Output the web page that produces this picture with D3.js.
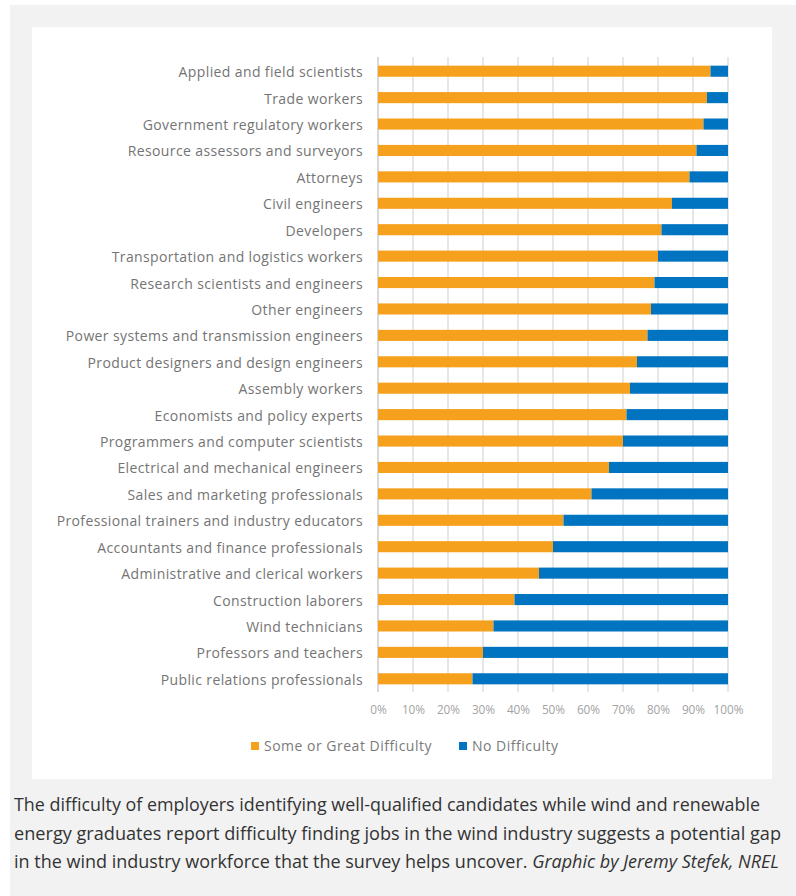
<!DOCTYPE html>
<html>
<head>
<meta charset="utf-8">
<script src="https://cdn.jsdelivr.net/npm/d3@7/dist/d3.min.js"></script>
<style>
  html, body { margin: 0; padding: 0; background: #ffffff; }
  svg { display: block; }
</style>
</head>
<body>
<svg id="chart" width="796" height="896"></svg>
<script>
// Occupations, top to bottom
const categories = [
  "Applied and field scientists",
  "Trade workers",
  "Government regulatory workers",
  "Resource assessors and surveyors",
  "Attorneys",
  "Civil engineers",
  "Developers",
  "Transportation and logistics workers",
  "Research scientists and engineers",
  "Other engineers",
  "Power systems and transmission engineers",
  "Product designers and design engineers",
  "Assembly workers",
  "Economists and policy experts",
  "Programmers and computer scientists",
  "Electrical and mechanical engineers",
  "Sales and marketing professionals",
  "Professional trainers and industry educators",
  "Accountants and finance professionals",
  "Administrative and clerical workers",
  "Construction laborers",
  "Wind technicians",
  "Professors and teachers",
  "Public relations professionals"
];

// Share of employers (%) reporting some or great difficulty
const someOrGreatDifficulty = [95, 94, 93, 91, 89, 84, 81, 80, 79, 78, 77, 74, 72, 71, 70, 66, 61, 53, 50, 46, 39, 33, 30, 27];
// Share of employers (%) reporting no difficulty
const noDifficulty = [5, 6, 7, 9, 11, 16, 19, 20, 21, 22, 23, 26, 28, 29, 30, 34, 39, 47, 50, 54, 61, 67, 70, 73];

const seriesNames = ["Some or Great Difficulty", "No Difficulty"];
const seriesColors = ["#F6A11D", "#0074C0"];
const tickValues = [0, 10, 20, 30, 40, 50, 60, 70, 80, 90, 100];

const captionLines = [
  [{ t: "The difficulty of employers identifying well-qualified candidates while wind and renewable", i: false }],
  [{ t: "energy graduates report difficulty finding jobs in the wind industry suggests a potential gap", i: false }],
  [{ t: "in the wind industry workforce that the survey helps uncover. ", i: false },
   { t: "Graphic by Jeremy Stefek, NREL", i: true }]
];

const svg = d3.select("#chart");

// Page backdrop and white chart card
svg.append("rect").attr("x", 10).attr("y", 5).attr("width", 786).attr("height", 891).attr("fill", "#f2f2f2");
svg.append("rect").attr("x", 32).attr("y", 27).attr("width", 740).attr("height", 752).attr("fill", "#ffffff");

const x = d3.scaleLinear().domain([0, 100]).range([378, 728]);
const y = d3.scaleBand().domain(categories).range([58, 692]).paddingInner(0.58).paddingOuter(0.29);

// Vertical gridlines
svg.append("g")
  .selectAll("line")
  .data(tickValues)
  .join("line")
  .attr("x1", d => x(d)).attr("x2", d => x(d))
  .attr("y1", 57).attr("y2", 692)
  .attr("stroke", d => d === 0 ? "#c4c4c4" : "#dadada")
  .attr("stroke-width", 1.3);

// Stacked bars
const rows = categories.map((c, i) => ({ c, a: someOrGreatDifficulty[i], b: noDifficulty[i] }));
const stack = d3.stack().keys(["a", "b"])(rows);

svg.append("g")
  .selectAll("g")
  .data(stack)
  .join("g")
  .attr("fill", (d, i) => seriesColors[i])
  .selectAll("rect")
  .data(d => d)
  .join("rect")
  .attr("x", d => x(d[0]))
  .attr("width", d => x(d[1]) - x(d[0]))
  .attr("y", d => y(d.data.c))
  .attr("height", y.bandwidth());

// Category axis labels
const yAxis = d3.axisLeft(y).tickSize(0).tickPadding(15);
const gy = svg.append("g").attr("transform", "translate(378,1.5)").call(yAxis);
gy.select(".domain").remove();
gy.selectAll("text")
  .attr("font-family", "'Open Sans', sans-serif")
  .attr("font-size", 14)
  .attr("letter-spacing", 0.38)
  .attr("fill", "#747474");

// Percentage axis labels
const xAxis = d3.axisBottom(x).tickValues(tickValues).tickFormat(d => d + "%").tickSize(0).tickPadding(0);
const gx = svg.append("g").attr("transform", "translate(0,706)").call(xAxis);
gx.select(".domain").remove();
gx.selectAll("text")
  .attr("font-family", "'Open Sans', sans-serif")
  .attr("font-size", 11.8)
  .attr("fill", "#a3a3a3");

// Legend
const legendItems = [{ x: 251 }, { x: 459 }];
const lg = svg.append("g");
seriesNames.forEach((name, i) => {
  lg.append("rect")
    .attr("x", legendItems[i].x).attr("y", 742)
    .attr("width", 8).attr("height", 8)
    .attr("fill", seriesColors[i]);
  lg.append("text")
    .attr("x", legendItems[i].x + 13).attr("y", 751)
    .attr("font-family", "'Open Sans', sans-serif")
    .attr("font-size", 14)
    .attr("letter-spacing", 0.5)
    .attr("fill", "#7a7a7a")
    .text(name);
});

// Caption below the card
const captionBaselines = [811, 840, 868];
const captionWidths = [746, 767, 765];
captionLines.forEach((parts, i) => {
  const t = svg.append("text")
    .attr("x", 14).attr("y", captionBaselines[i])
    .attr("font-family", "'Open Sans', sans-serif")
    .attr("font-size", 17.3)
    .attr("fill", "#333333")
    .attr("textLength", captionWidths[i])
    .attr("lengthAdjust", "spacingAndGlyphs");
  parts.forEach(p => {
    t.append("tspan").attr("font-style", p.i ? "italic" : "normal").text(p.t);
  });
});
</script>
</body>
</html>
